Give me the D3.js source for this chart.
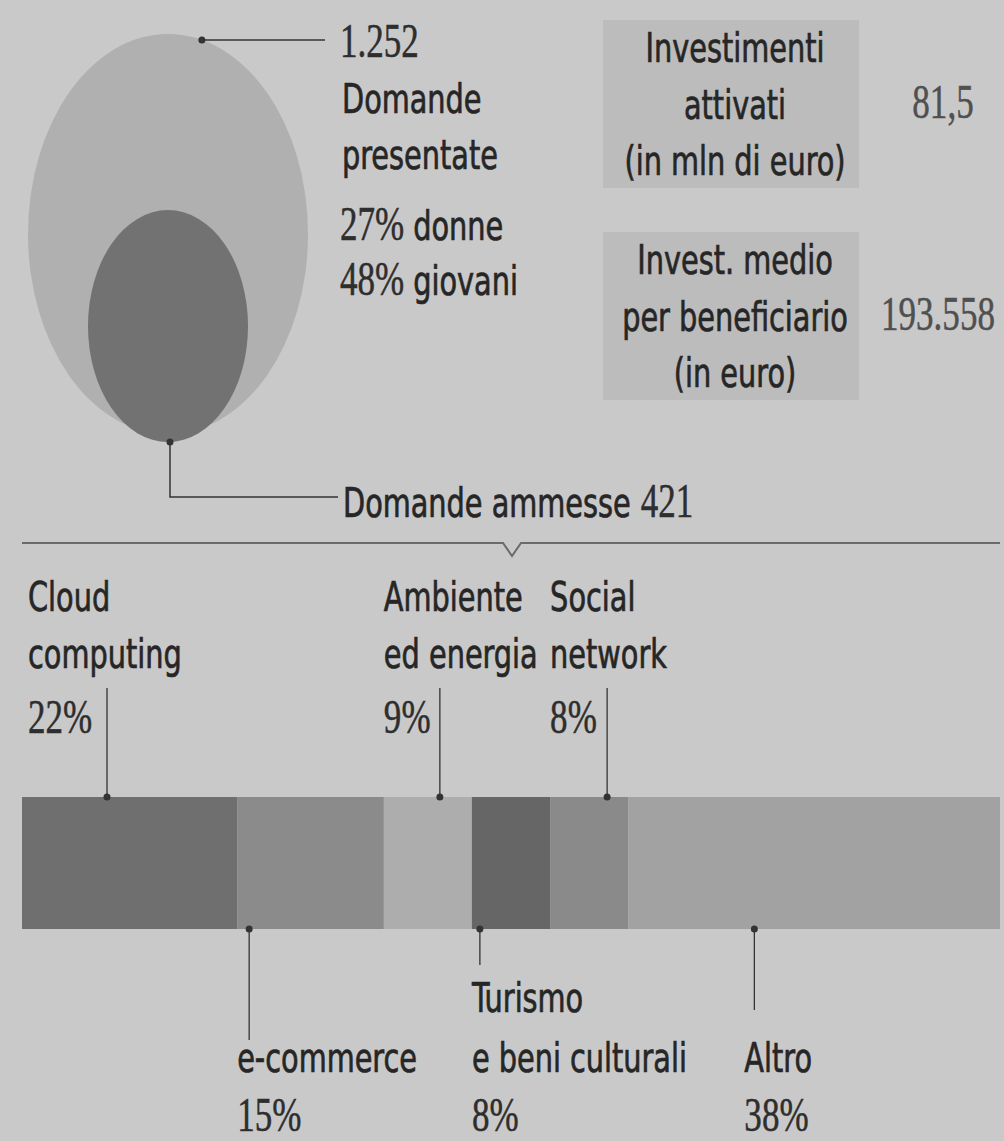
<!DOCTYPE html>
<html>
<head>
<meta charset="utf-8">
<script src="https://cdn.jsdelivr.net/npm/d3@7"></script>
<style>
  body { margin: 0; background: #c9c9c9; }
  .sans { font-family: "Liberation Sans Narrow", "DejaVu Sans Condensed", sans-serif; font-size: 41px; fill: #262626; stroke: #262626; stroke-width: 0.7px; }
  .serif { font-family: "Liberation Serif", "DejaVu Serif", serif; font-size: 48px; stroke-width: 0.5px; }
</style>
</head>
<body>
<div id="chart"></div>
<script>
// dati
const domandePresentate = 1252;
const domandeAmmesse = 421;
const quotaDonne = 27;
const quotaGiovani = 48;
const investimentiAttivati = 81.5;   // mln di euro
const investMedio = 193558;          // euro

const settori = ['Cloud computing', 'e-commerce', 'Ambiente ed energia', 'Turismo e beni culturali', 'Social network', 'Altro'];
const righeSettori = [['Cloud', 'computing'], ['e-commerce'], ['Ambiente', 'ed energia'], ['Turismo', 'e beni culturali'], ['Social', 'network'], ['Altro']];
const quote = [22, 15, 9, 8, 8, 38];

// layout (non dati)
const coloriBarra = ['#6f6f6f', '#8b8b8b', '#adadad', '#666666', '#8a8a8a', '#a2a2a2'];
const sopra = [true, false, true, false, true, false];
const dxEtichetta = [6, 0, 0, 0, 0, 116];
const dxLinea = [85, 12, 56, 8, 57, 126];
const fineLineaSotto = [0, 1040, 0, 965, 0, 1010];

let width = 1004;
let height = 1141;

const it = d3.formatLocale({decimal: ',', thousands: '.', grouping: [3], currency: ['', '€']});
const fmtInt = it.format(',d');
const fmtDec = it.format(',.1f');

let svg = d3.select('#chart')
    .append('svg')
    .attr('width', width)
    .attr('height', height);

svg.append('rect').attr('width', width).attr('height', height).attr('fill', '#c9c9c9');

// caratteri stretti come nella stampa
const SX_SANS = 0.78;
const SX_SERIF = 0.73;

function sans(g, x, y, s, anchor) {
    let t = g.append('text').attr('class', 'sans')
        .attr('text-anchor', anchor || 'start')
        .attr('transform', 'translate(' + x + ',' + y + ') scale(' + SX_SANS + ',1)')
        .text(s);
    return t.node().getComputedTextLength() * SX_SANS;
}
function serif(g, x, y, s, anchor, col) {
    let c = col || '#2e2e2e';
    let t = g.append('text').attr('class', 'serif')
        .attr('text-anchor', anchor || 'start')
        .attr('transform', 'translate(' + x + ',' + y + ') scale(' + SX_SERIF + ',1)')
        .style('fill', c).style('stroke', c)
        .text(s);
    return t.node().getComputedTextLength() * SX_SERIF;
}

// ---- ellissi domande ----
let ry = d3.scaleSqrt().domain([0, domandePresentate]).range([0, 200]);
let cx = 168;
let outer = {rx: ry(domandePresentate) * 0.7, ry: ry(domandePresentate), cy: 234};
let innerRy = ry(domandeAmmesse);
let inner = {rx: innerRy * 0.69, ry: innerRy, cy: outer.cy + outer.ry + 8 - innerRy};

let gTop = svg.append('g');
gTop.append('ellipse').attr('cx', cx).attr('cy', outer.cy).attr('rx', outer.rx).attr('ry', outer.ry).attr('fill', '#b0b0b0');
gTop.append('ellipse').attr('cx', cx).attr('cy', inner.cy).attr('rx', inner.rx).attr('ry', inner.ry).attr('fill', '#727272');

// linea domande presentate
let a = -76 * Math.PI / 180;
let p1 = [cx + outer.rx * Math.cos(a), outer.cy + outer.ry * Math.sin(a)];
gTop.append('line').attr('x1', p1[0]).attr('y1', p1[1]).attr('x2', 325).attr('y2', p1[1]).attr('stroke', '#333').attr('stroke-width', 1.5);
gTop.append('circle').attr('cx', p1[0]).attr('cy', p1[1]).attr('r', 3.5).attr('fill', '#333');

serif(gTop, 340, 57, fmtInt(domandePresentate));
sans(gTop, 342, 113, 'Domande');
sans(gTop, 342, 169, 'presentate');
let w = serif(gTop, 340, 240, quotaDonne + '%');
sans(gTop, 340 + w + 9, 240, 'donne');
w = serif(gTop, 340, 295, quotaGiovani + '%');
sans(gTop, 340 + w + 9, 295, 'giovani');

// linea domande ammesse
let p2 = [cx + 2, inner.cy + inner.ry];
gTop.append('path').attr('d', 'M' + p2[0] + ',' + p2[1] + 'V497H338').attr('fill', 'none').attr('stroke', '#333').attr('stroke-width', 1.5);
gTop.append('circle').attr('cx', p2[0]).attr('cy', p2[1]).attr('r', 3.5).attr('fill', '#333');
w = sans(gTop, 343, 517, 'Domande ammesse');
serif(gTop, 343 + w + 10, 517, fmtInt(domandeAmmesse));

// ---- riquadri investimenti ----
let boxes = [
    {y: 20, righe: ['Investimenti', 'attivati', '(in mln di euro)'], valore: fmtDec(investimentiAttivati), vx: 943},
    {y: 232, righe: ['Invest. medio', 'per beneficiario', '(in euro)'], valore: fmtInt(investMedio), vx: 938}
];
boxes.forEach(function(b) {
    gTop.append('rect').attr('x', 603).attr('y', b.y).attr('width', 256).attr('height', 168).attr('fill', '#bcbcbc');
    b.righe.forEach(function(r, i) {
        sans(gTop, 735, b.y + 42 + i * 56.5, r, 'middle');
    });
    serif(gTop, b.vx, b.y + 98, b.valore, 'middle', '#505050');
});

// divisore con tacca
svg.append('path')
    .attr('d', 'M22,543H503L512,556L521,543H1000')
    .attr('fill', 'none').attr('stroke', '#6a6a6a').attr('stroke-width', 2);

// ---- barra settori ----
let x = d3.scaleLinear().domain([0, d3.sum(quote)]).range([22, 1000]);
let colore = d3.scaleOrdinal().domain(settori).range(coloriBarra);
let cum = d3.cumsum(quote);
let start = quote.map(function(d, i) { return cum[i] - d; });
let barTop = 797, barBot = 929;

let bar = svg.append('g');
bar.selectAll('rect')
    .data(settori)
    .join('rect')
    .attr('x', function(d, i) { return x(start[i]); })
    .attr('y', barTop)
    .attr('width', function(d, i) { return x(cum[i]) - x(start[i]); })
    .attr('height', barBot - barTop)
    .attr('fill', function(d) { return colore(d); });

settori.forEach(function(s, i) {
    let lx = x(start[i]) + dxEtichetta[i];
    let lineX = x(start[i]) + dxLinea[i];
    let righe = righeSettori[i];
    if (sopra[i]) {
        bar.append('line').attr('x1', lineX).attr('x2', lineX).attr('y1', 688).attr('y2', barTop).attr('stroke', '#333').attr('stroke-width', 1.3);
        bar.append('circle').attr('cx', lineX).attr('cy', barTop).attr('r', 3.5).attr('fill', '#333');
        sans(bar, lx, 611, righe[0]);
        if (righe[1]) sans(bar, lx, 668, righe[1]);
        serif(bar, lx, 733, quote[i] + '%');
    } else {
        bar.append('line').attr('x1', lineX).attr('x2', lineX).attr('y1', barBot).attr('y2', fineLineaSotto[i]).attr('stroke', '#333').attr('stroke-width', 1.3);
        bar.append('circle').attr('cx', lineX).attr('cy', barBot).attr('r', 3.5).attr('fill', '#333');
        if (righe.length > 1) {
            sans(bar, lx, 1012, righe[0]);
            sans(bar, lx, 1072, righe[1]);
        } else {
            sans(bar, lx, 1072, righe[0]);
        }
        serif(bar, lx, 1131, quote[i] + '%');
    }
});
</script>
</body>
</html>
